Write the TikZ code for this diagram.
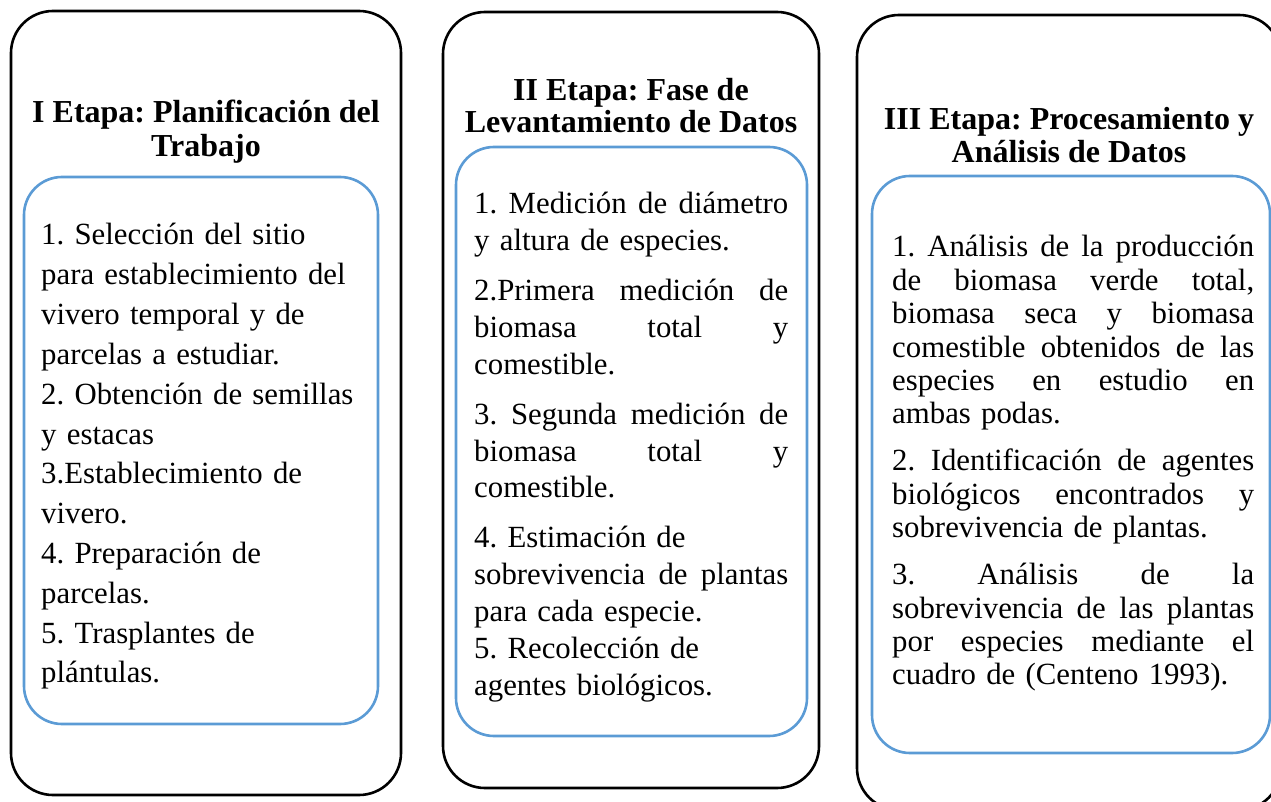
\documentclass[tikz,border=0pt]{standalone}
\usepackage{fontspec}
\setmainfont{Liberation Serif}
\usepackage{xcolor}
\definecolor{cajaazul}{HTML}{5B9BD5}
\frenchspacing
\newcommand{\llena}[2]{\leavevmode\hbox to #1{\spaceskip=.25em plus 1fil\relax #2}}

\begin{document}
\begin{tikzpicture}[x=1pt, y=-1pt,
  etapa/.style={draw=black, line width=2.6pt, rounded corners=42pt},
  caja/.style={draw=cajaazul, line width=2.6pt, rounded corners=38pt},
  titulo/.style={font=\fontsize{32}{34}\selectfont\bfseries, align=center, anchor=base, inner sep=0pt},
  texto/.style={align=left, anchor=base west, inner sep=0pt}]
 \useasboundingbox (0,0) rectangle (1271,802);
 % I Etapa
 \draw [etapa] (11,11) rectangle (401,795);
 \draw [caja] (24,177) rectangle (378,724);
 \node [titulo] (tituloI) at (206,157) {I Etapa: Planificación del\\Trabajo};
 \node [texto, text width=340pt, font=\fontsize{30.8}{39.8}\selectfont] (textoI) at (41,245)
  {1. Selección del sitio\\para establecimiento del\\vivero temporal y de\\parcelas a estudiar.\\
   2. Obtención de semillas\\y estacas\\3.Establecimiento de\\vivero.\\4. Preparación de\\
   parcelas.\\5. Trasplantes de\\plántulas.};
 % II Etapa
 \draw [etapa] (443,12) rectangle (819,788);
 \draw [caja] (456,147) rectangle (807,736);
 \node [titulo, font=\fontsize{32}{32}\selectfont\bfseries] (tituloII) at (631,133) {II Etapa: Fase de\\Levantamiento de Datos};
 \node [texto, text width=314pt, font=\fontsize{30.8}{36.8}\selectfont] (textoII) at (474,214)
  {\llena{314pt}{1. Medición de diámetro}\\y altura de especies.\\[13.2pt]
   \llena{314pt}{2.Primera medición de}\\\llena{314pt}{biomasa total y}\\comestible.\\[13.2pt]
   \llena{314pt}{3. Segunda medición de}\\\llena{314pt}{biomasa total y}\\comestible.\\[13.2pt]
   4. Estimación de\\\llena{314pt}{sobrevivencia de plantas}\\para cada especie.\\
   5. Recolección de\\agentes biológicos.};
 % III Etapa
 \draw [etapa] (857,15) rectangle (1281,810);
 \draw [caja] (872,176) rectangle (1270,753);
 \node [titulo, font=\fontsize{32}{33}\selectfont\bfseries] (tituloIII) at (1069,163) {III Etapa: Procesamiento y\\Análisis de Datos};
 \node [texto, text width=362pt, font=\fontsize{30.8}{33.4}\selectfont] (textoIII) at (892,257)
  {\llena{362pt}{1. Análisis de la producción}\\\llena{362pt}{de biomasa verde total,}\\
   \llena{362pt}{biomasa seca y biomasa}\\\llena{362pt}{comestible obtenidos de las}\\
   \llena{362pt}{especies en estudio en}\\ambas podas.\\[13.6pt]
   \llena{362pt}{2. Identificación de agentes}\\\llena{362pt}{biológicos encontrados y}\\
   sobrevivencia de plantas.\\[13.6pt]
   \llena{362pt}{3. Análisis de la}\\\llena{362pt}{sobrevivencia de las plantas}\\
   \llena{362pt}{por especies mediante el}\\cuadro de (Centeno 1993).};
\end{tikzpicture}
\end{document}
